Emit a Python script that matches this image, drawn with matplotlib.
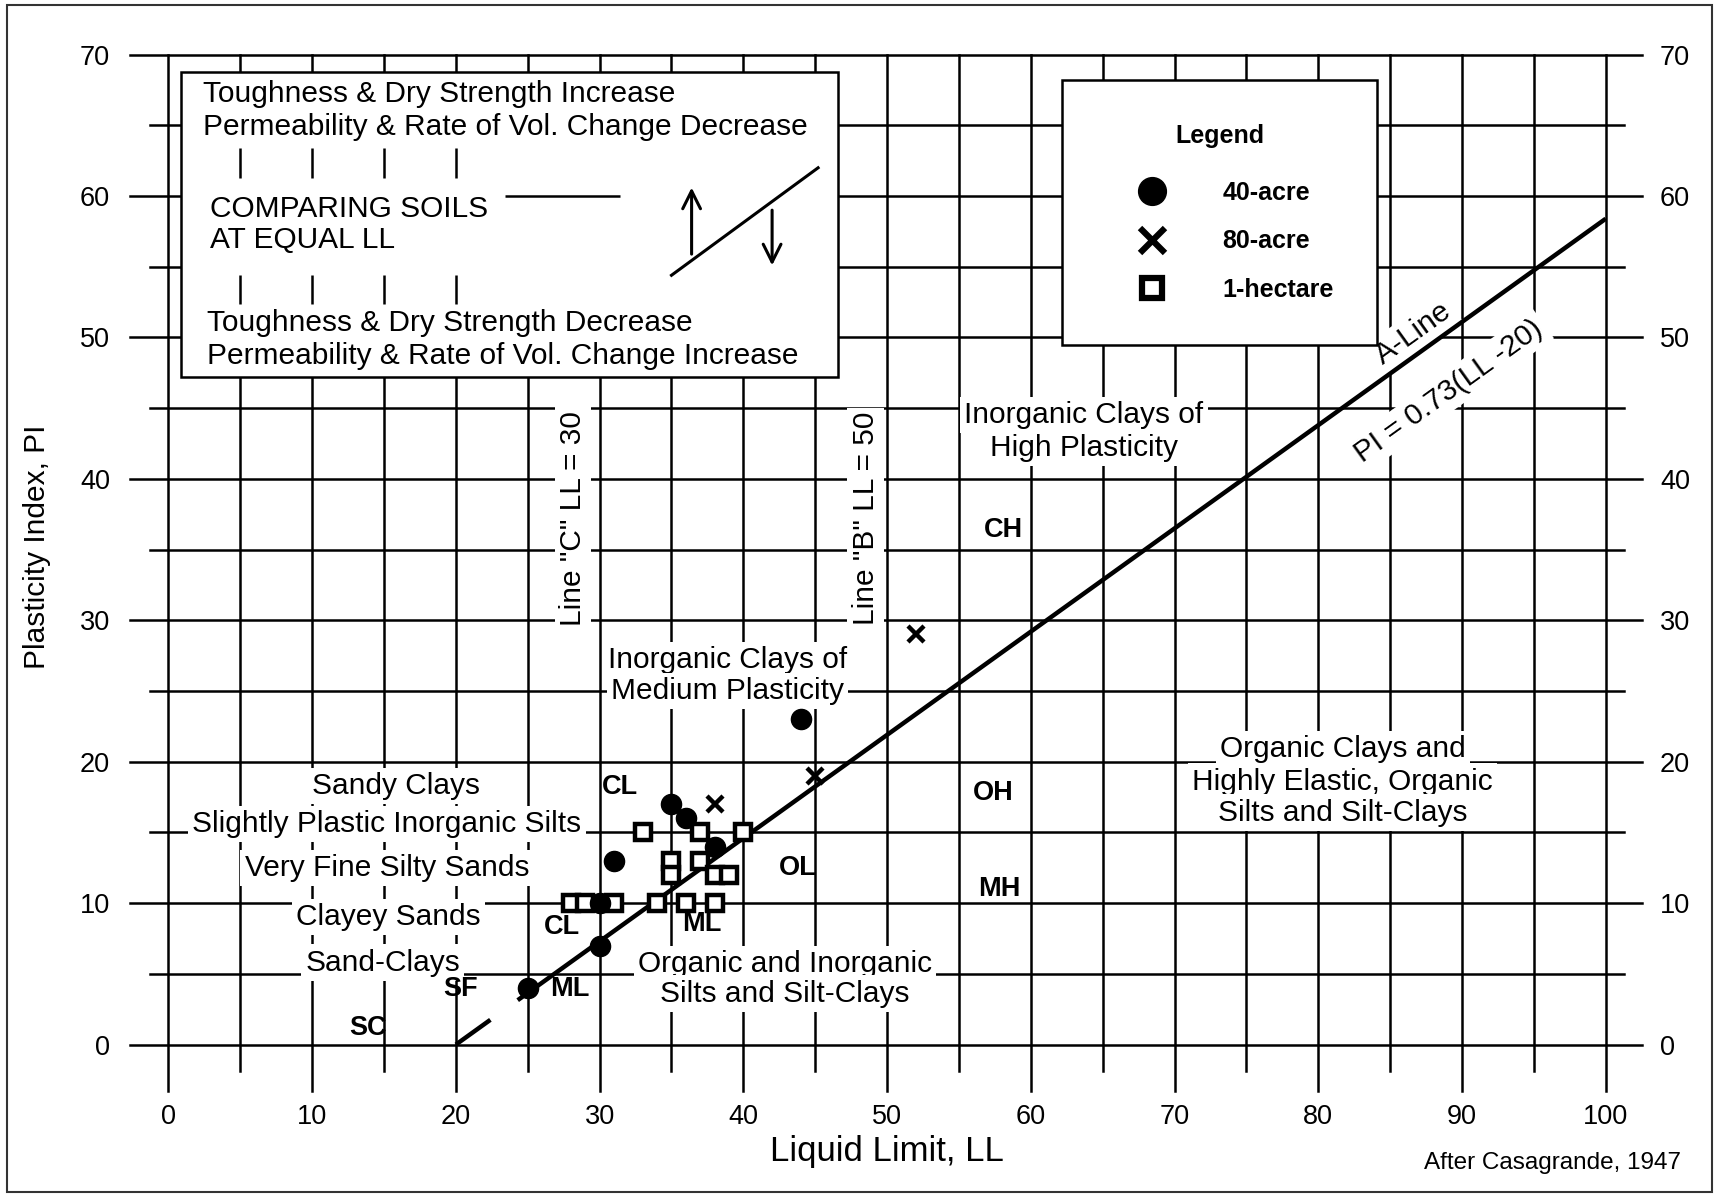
import matplotlib
matplotlib.use('Agg')
import numpy as np
import matplotlib.pyplot as plt
from matplotlib.patches import Rectangle
from matplotlib.lines import Line2D

plt.rcParams['font.family'] = ['Liberation Sans', 'DejaVu Sans']

# sample results (liquid limit, plasticity index)
acre40_ll = [25, 30, 30, 31, 35, 36, 38, 44]
acre40_pi = [4, 7, 10, 13, 17, 16, 14, 23]
acre80_ll = [38, 45, 52]
acre80_pi = [17, 19, 29]
hectare_ll = [28, 29, 31, 34, 36, 38, 33, 37, 40, 35, 35, 37, 38, 39]
hectare_pi = [10, 10, 10, 10, 10, 10, 15, 15, 15, 13, 12, 13, 12, 12]
series_names = ['40-acre', '80-acre', '1-hectare']

x_ticks = list(range(0, 101, 10))
y_ticks = list(range(0, 71, 10))
grid_x = list(range(0, 101, 5))
grid_y = list(range(0, 71, 5))

# A-line PI = 0.73(LL-20); the printed line has a small break near LL 23
a_line_ll = [[20, 22.4], [24.3, 100]]


def a_line(ll):
    return 0.73 * (np.asarray(ll) - 20)


LW = 1.8
TXT = 21.5   # regular label size
BOLD = 19.5  # zone symbols

fig = plt.figure(figsize=(17.15, 11.96), dpi=100)
ax = fig.add_axes([0.0982, 0.1266, 0.8381, 0.8277])
ax.set_xlim(0, 100)
ax.set_ylim(0, 70)
for s in ax.spines.values():
    s.set_visible(False)
ax.set_xticks(x_ticks)
ax.set_yticks(y_ticks)
ax.tick_params(axis='x', length=0, pad=43, labelsize=19.5)
ax.tick_params(axis='y', length=0, pad=42, labelsize=19.5)

ax2 = ax.twinx()
ax2.set_ylim(0, 70)
ax2.set_yticks(y_ticks)
ax2.tick_params(axis='y', length=0, pad=39, labelsize=19.5)
for s in ax2.spines.values():
    s.set_visible(False)

ax.set_xlabel('Liquid Limit, LL', fontsize=25)
ax.xaxis.set_label_coords(0.5, -0.091)
ax.set_ylabel('Plasticity Index, PI', fontsize=21.5)
ax.yaxis.set_label_coords(-0.082, 0.503)

# grid: major lines run past the plot edge like the printed chart
for x in grid_x:
    lo = -3.3 if x % 10 == 0 else -1.9
    ax.plot([x, x], [lo, 70], color='k', lw=LW, zorder=1, clip_on=False)
for y in grid_y:
    lo, hi = (-2.7, 102.5) if y % 10 == 0 else (-1.3, 101.3)
    ax.plot([lo, hi], [y, y], color='k', lw=LW, zorder=1, clip_on=False)

# A-line
for seg in a_line_ll:
    ax.plot(seg, a_line(seg), color='k', lw=3.2, zorder=6, solid_capstyle='butt')

# upper-left explanation box
ax.add_patch(Rectangle((0.9, 47.2), 45.7, 21.6, fc='white', ec='k', lw=LW, zorder=2))
ax.vlines([5, 10, 15, 20], 61.3, 63.4, color='k', lw=LW, zorder=3)
ax.vlines([5, 10, 15, 20], 52.4, 54.4, color='k', lw=LW, zorder=3)
ax.hlines(60, 23.4, 31.4, color='k', lw=LW, zorder=3)
ax.plot([35.0, 45.2], [54.4, 62.0], color='k', lw=2.2, zorder=3)
ax.annotate('', xy=(36.4, 60.8), xytext=(36.4, 55.7),
            arrowprops=dict(arrowstyle='->', lw=2.2, mutation_scale=32, color='k'), zorder=3)
ax.annotate('', xy=(42.0, 54.9), xytext=(42.0, 59.2),
            arrowprops=dict(arrowstyle='->', lw=2.2, mutation_scale=32, color='k'), zorder=3)

box_txt = dict(fontsize=TXT, ha='left', va='center', zorder=4)
ax.text(2.4, 67.2, 'Toughness & Dry Strength Increase', **box_txt)
ax.text(2.4, 64.9, 'Permeability & Rate of Vol. Change Decrease', **box_txt)
ax.text(2.9, 59.1, 'COMPARING SOILS', **box_txt)
ax.text(2.9, 56.9, 'AT EQUAL LL', **box_txt)
ax.text(2.7, 51.0, 'Toughness & Dry Strength Decrease', **box_txt)
ax.text(2.7, 48.7, 'Permeability & Rate of Vol. Change Increase', **box_txt)

# zone descriptions, white backing breaks the grid like the original
wb = dict(facecolor='white', edgecolor='none', pad=3)
lab = dict(fontsize=TXT, ha='center', va='center', zorder=5, bbox=wb)
ax.text(28.15, 37.2, 'Line "C" LL = 30', rotation=90, **lab)
ax.text(48.5, 37.2, 'Line "B" LL = 50', rotation=90, **lab)
ax.text(38.9, 27.2, 'Inorganic Clays of', **lab)
ax.text(38.9, 25.0, 'Medium Plasticity', **lab)
ax.text(63.7, 44.5, 'Inorganic Clays of', **lab)
ax.text(63.7, 42.2, 'High Plasticity', **lab)
ax.text(81.7, 20.9, 'Organic Clays and', **lab)
ax.text(81.7, 18.6, 'Highly Elastic, Organic', **lab)
ax.text(81.7, 16.4, 'Silts and Silt-Clays', **lab)
ax.text(15.8, 18.3, 'Sandy Clays', **lab)
ax.text(15.2, 15.6, 'Slightly Plastic Inorganic Silts', **lab)
ax.text(15.2, 12.5, 'Very Fine Silty Sands', **lab)
ax.text(15.3, 9.0, 'Clayey Sands', **lab)
ax.text(14.9, 5.8, 'Sand-Clays', **lab)
ax.text(42.9, 5.7, 'Organic and Inorganic', **lab)
ax.text(42.9, 3.6, 'Silts and Silt-Clays', **lab)
ax.text(86.6, 50.3, 'A-Line', rotation=35.7, **lab)
ax.text(89.1, 46.2, 'PI = 0.73(LL -20)', rotation=35.7, **lab)

sym = dict(fontsize=BOLD, fontweight='bold', ha='center', va='center', zorder=5)
for x, y, s in [(58.1, 36.4, 'CH'), (57.4, 17.8, 'OH'), (57.8, 11.0, 'MH'),
                (43.8, 12.5, 'OL'), (31.4, 18.2, 'CL'), (27.4, 8.3, 'CL'),
                (37.1, 8.5, 'ML'), (27.9, 3.9, 'ML'), (20.3, 3.9, 'SF'),
                (13.9, 1.2, 'SC')]:
    ax.text(x, y, s, **sym)

# data
ax.plot(hectare_ll, hectare_pi, ls='none', marker='s', ms=11.5, mfc='white',
        mec='k', mew=3.2, zorder=7)
ax.plot(acre40_ll, acre40_pi, ls='none', marker='o', ms=14.5, color='k', zorder=8)
ax.plot(acre80_ll, acre80_pi, ls='none', marker='x', ms=12, mew=3.2, color='k', zorder=8)

handles = [
    Line2D([], [], ls='none', marker='o', ms=20, color='k'),
    Line2D([], [], ls='none', marker='x', ms=18, mew=4.5, color='k'),
    Line2D([], [], ls='none', marker='s', ms=15, mfc='white', mec='k', mew=4.5),
]
leg = ax.legend(handles, series_names, loc='upper left', bbox_to_anchor=(62.2, 68.2),
                bbox_transform=ax.transData, borderaxespad=0, fancybox=False,
                edgecolor='k', framealpha=1, title='Legend',
                title_fontproperties={'weight': 'bold', 'size': 18},
                prop={'weight': 'bold', 'size': 18}, borderpad=1.75,
                handlelength=3.64, handletextpad=1.0, labelspacing=0.97)
leg._legend_box.sep = 24   # a little more room under the title
leg.get_frame().set_linewidth(LW)
leg.set_zorder(9)

fig.text(0.9055, 0.0276, 'After Casagrande, 1947', fontsize=17.5, ha='center', va='center')
fig.patches.append(Rectangle((0.004, 0.0035), 0.994, 0.9923, transform=fig.transFigure,
                             fill=False, ec='#333333', lw=1.5))

fig.savefig('out.png', dpi=100)
